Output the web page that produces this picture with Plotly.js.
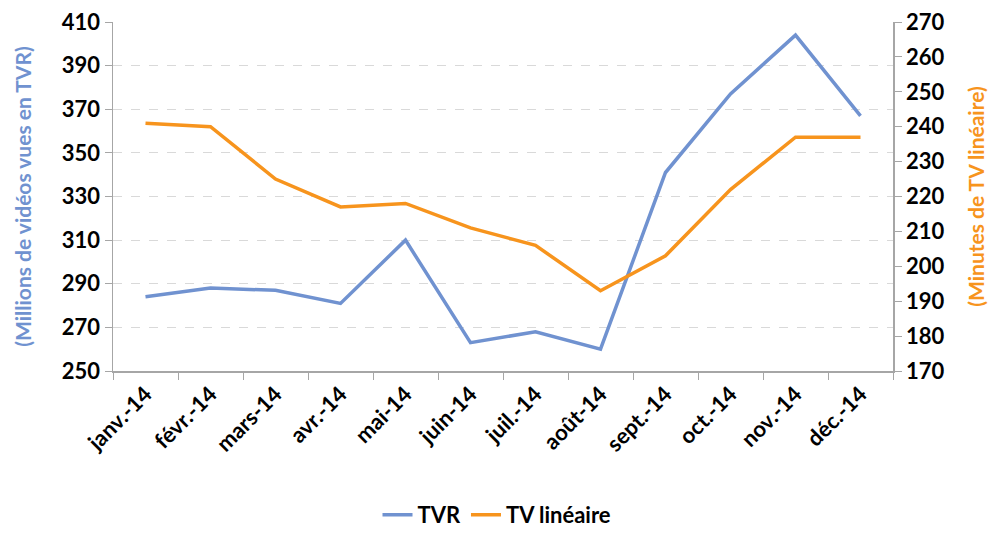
<!DOCTYPE html>
<html>
<head>
<meta charset="utf-8">
<script src="https://cdn.plot.ly/plotly-3.0.1.min.js"></script>
<style>html,body{margin:0;padding:0;background:#fff}#chart{width:994px;height:536px}</style>
</head>
<body>
<div id="chart"></div>
<script>
const months = ["janv.-14","févr.-14","mars-14","avr.-14","mai-14","juin-14","juil.-14","août-14","sept.-14","oct.-14","nov.-14","déc.-14"];
const tvr = [284, 288, 287, 281, 310, 263, 268, 260, 341, 377, 404, 367];
const tvLineaire = [241, 240, 225, 217, 218, 211, 206, 193, 203, 222, 237, 237];

const blue = "#7092D0";
const orange = "#F7941D";
const font = "Lato, 'Open Sans', sans-serif";

const traces = [
  {x: months, y: tvr, name: "TVR", type: "scatter", mode: "lines",
   line: {color: blue, width: 3.5}, yaxis: "y"},
  {x: months, y: tvLineaire, name: "TV linéaire", type: "scatter", mode: "lines",
   line: {color: orange, width: 3.5}, yaxis: "y2"}
];

const layout = {
  width: 994, height: 536,
  margin: {l: 113, r: 101, t: 22, b: 165},
  paper_bgcolor: "#fff", plot_bgcolor: "#fff",
  font: {family: font, color: "#000", size: 20, weight: "bold"},
  showlegend: true,
  legend: {orientation: "h", x: 0.5, xanchor: "center", xref: "container",
           y: -0.012, yanchor: "bottom", yref: "container",
           font: {size: 22, family: font, weight: "bold"}},
  xaxis: {type: "category", range: [-0.5, 11.5], tickangle: -45, tickson: "boundaries",
          ticks: "outside", ticklen: 7, tickcolor: "#A6A6A6",
          showline: true, linecolor: "#A6A6A6", linewidth: 1.5,
          showgrid: false, zeroline: false, automargin: false,
          tickfont: {size: 22, family: font, weight: "bold"}},
  yaxis: {range: [250, 410], tickvals: [250,270,290,310,330,350,370,390,410],
          ticks: "outside", ticklen: 7, tickcolor: "#A6A6A6",
          showline: true, linecolor: "#A6A6A6", linewidth: 1.5,
          showgrid: true, gridcolor: "#D9D9D9", griddash: "dash", gridwidth: 1,
          zeroline: false, automargin: false,
          tickfont: {size: 22, family: font, weight: "bold"},
          title: {text: "(Millions de vidéos vues en TVR)", standoff: 24,
                  font: {size: 21, color: blue, family: font, weight: "bold"}}},
  yaxis2: {range: [170, 270], tickvals: [170,180,190,200,210,220,230,240,250,260,270],
           overlaying: "y", side: "right",
           ticks: "outside", ticklen: 7, tickcolor: "#A6A6A6",
           showline: true, linecolor: "#A6A6A6", linewidth: 1.5,
           showgrid: false, zeroline: false, automargin: false,
           tickfont: {size: 22, family: font, weight: "bold"},
           title: {text: "(Minutes de TV linéaire)", standoff: 26,
                   font: {size: 21, color: orange, family: font, weight: "bold"}}}
};

Plotly.newPlot("chart", traces, layout, {displayModeBar: false, staticPlot: true});
</script>
</body>
</html>
